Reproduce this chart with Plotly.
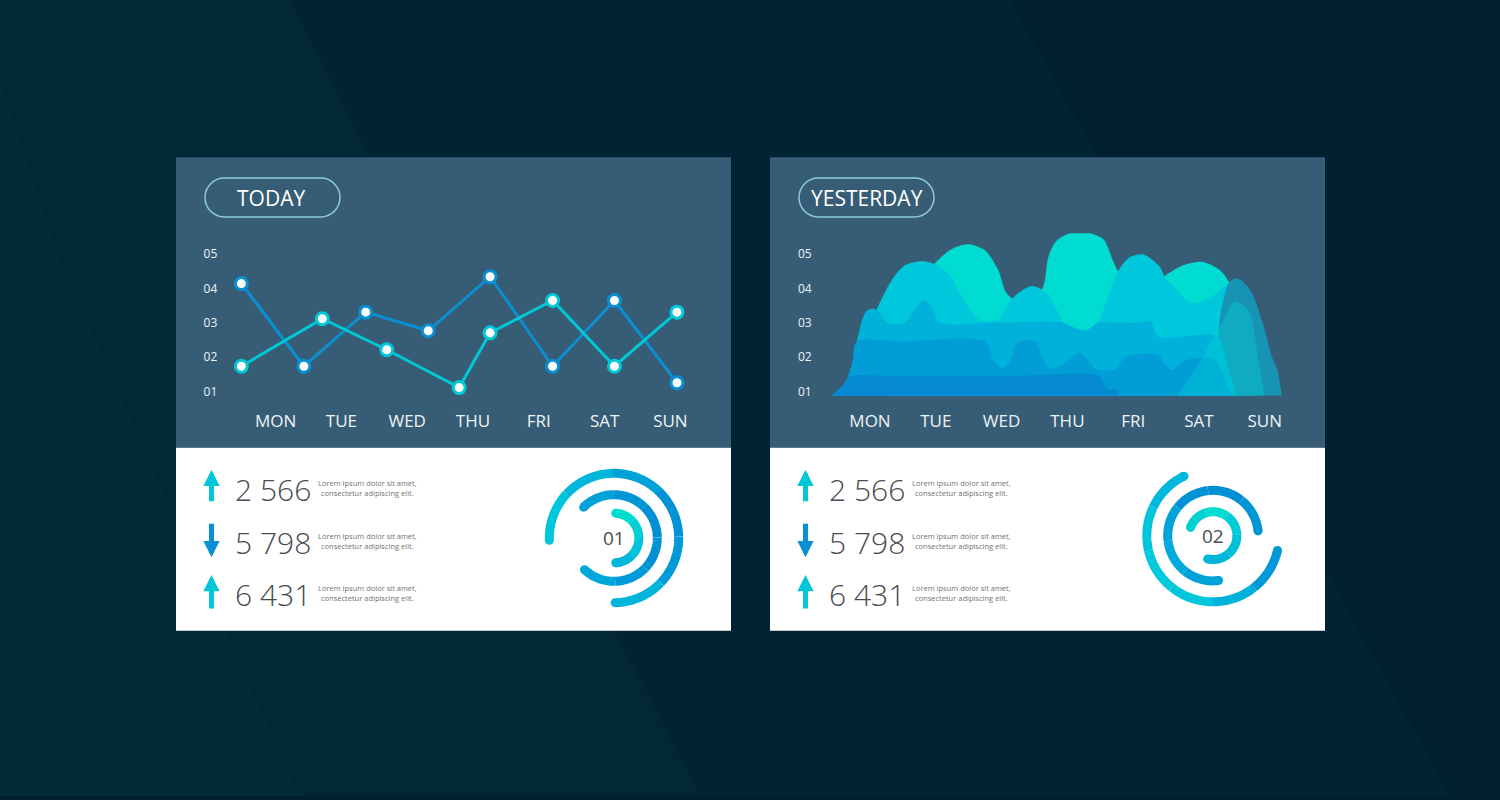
import numpy as np
import plotly.graph_objects as go

W, H = 1500, 800
def px(x): return x / W
def py(y): return 1 - y / H

# ---------------- data ----------------
days = ["MON", "TUE", "WED", "THU", "FRI", "SAT", "SUN"]
day_pos = [0, 1, 2, 3, 4, 5, 6]
y_tickvals = [1, 2, 3, 4, 5]
y_ticktext = ["01", "02", "03", "04", "05"]

# TODAY: two line series (x in day units)
today_a_x = [-0.52, 0.43, 1.37, 2.32, 3.26, 4.21, 5.15, 6.10]
today_a_y = [4.14, 1.74, 3.31, 2.77, 4.34, 1.74, 3.65, 1.26]
today_b_x = [-0.52, 0.71, 1.69, 2.79, 3.26, 4.21, 5.15, 6.10]
today_b_y = [1.74, 3.12, 2.22, 1.12, 2.71, 3.65, 1.74, 3.31]

# YESTERDAY: layered areas (back to front)
teal_x = [0.30, 0.99, 1.25, 1.49, 1.75, 1.95, 2.08, 2.36, 2.63, 2.71, 2.84, 3.15, 3.54, 3.69, 3.77,
          4.10, 4.48, 4.76, 5.06, 5.32, 5.47, 5.70, 5.93]
teal_y = [3.0, 4.74, 5.15, 5.28, 5.1, 4.53, 3.85, 3.5, 4.05, 4.91, 5.39, 5.66, 5.44, 4.82, 4.5,
          3.8, 4.36, 4.67, 4.77, 4.53, 4.14, 3.0, 0.5]
cyan_x = [-0.30, 0.12, 0.33, 0.53, 0.79, 1.03, 1.25, 1.34, 1.49, 1.70, 1.95, 2.16, 2.46, 2.69, 2.84,
          2.98, 3.27, 3.45, 3.60, 3.77, 3.95, 4.15, 4.41, 4.48, 4.67, 4.89, 5.27, 5.44, 5.56, 5.70, 5.80]
cyan_y = [1.5, 3.47, 4.24, 4.67, 4.79, 4.67, 4.29, 3.95, 3.47, 3.06, 3.1, 3.71, 4.07, 3.85, 3.37,
          2.9, 2.6, 2.95, 3.66, 4.5, 4.91, 4.99, 4.62, 4.33, 3.95, 3.56, 3.85, 4.14, 3.6, 2.0, 0.5]
hill_x = [5.20, 5.35, 5.47, 5.59, 5.78, 5.97, 6.11, 6.19, 6.26, 6.30]
hill_y = [0.89, 3.5, 4.2, 4.29, 3.95, 2.99, 2.0, 1.64, 0.89, 0.5]
mid_x = [-0.58, -0.38, -0.27, -0.20, -0.12, -0.05, 0.05, 0.15, 0.26, 0.53, 0.68, 0.82, 0.96, 1.06,
         1.98, 2.93, 3.12, 3.30, 3.47, 3.65, 4.10, 4.26, 4.38, 5.27, 5.47, 5.62]
mid_y = [0.89, 1.25, 1.83, 2.46, 3.08, 3.35, 3.42, 3.3, 3.01, 3.01, 3.4, 3.66, 3.4, 3.01,
         3.01, 3.01, 2.85, 2.8, 3.01, 3.01, 3.01, 3.05, 2.6, 2.6, 1.5, 0.5]
low_x = [-0.58, -0.38, -0.27, -0.20, 0.46, 1.75, 1.88, 2.01, 2.13, 2.25, 2.52, 2.64, 2.77, 2.96,
         3.18, 3.34, 3.43, 3.72, 3.87, 3.99, 4.38, 4.48, 4.59, 4.71, 4.82, 5.24, 5.47, 5.62]
low_y = [0.89, 1.25, 1.83, 2.46, 2.46, 2.46, 1.9, 1.69, 1.9, 2.46, 2.46, 1.9, 1.65, 1.85,
         2.13, 1.85, 1.65, 1.65, 2.0, 2.07, 2.07, 1.8, 1.64, 1.8, 1.93, 1.93, 1.0, 0.5]
base_x = [-0.58, -0.38, -0.30, 0.46, 1.98, 3.50, 3.56, 3.62, 3.75, 3.80]
base_y = [0.89, 1.25, 1.445, 1.445, 1.445, 1.445, 1.15, 1.06, 1.06, 0.5]
haze_x = [4.67, 5.02, 5.32, 5.55, 5.75, 5.90, 6.02]
haze_y = [0.89, 1.9, 2.9, 3.62, 3.37, 2.0, 0.5]

# Stats
stat_values = ["2 566", "5 798", "6 431"]
stat_dirs = ["up", "down", "up"]
stat_text = "Lorem ipsum dolor sit amet,<br>consectetur adipiscing elit."

# Rings: radius (px), start angle, end angle (deg, counter-clockwise positive)
ring1_r = [65, 43.5, 25]
ring1_start = [182, 134.5, 86]
ring1_end = [-89, -133, -86]
ring2_r = [66.5, 45.5, 24]
ring2_start = [116, 6, 160]
ring2_end = [347, 277, -103]
ring_labels = ["01", "02"]

# ---------------- style ----------------
BG = "#00202f"
PANEL = "#365d75"
C_DARK = "#0a90d2"
C_CYAN = "#00c8d6"
TXT = "#474b51"
FONT = "Open Sans"

ring1_cols = [["#00c6dc", "#00b6da", "#00a2d8", "#0094d6", "#009ad8", "#00b4da"],
              ["#00a2d8", "#0096d6", "#008fd4", "#0090d4", "#009ad8", "#00a8da"],
              ["#00dcd0", "#00d0d6", "#00c2da", "#00b6da"]]
ring2_cols = [["#00b8dc", "#00c4dc", "#00cadc", "#00c6dc", "#00b2da", "#0098d6"],
              ["#0096d6", "#008fd4", "#0092d4", "#00a2d8", "#00aada", "#00a0d8"],
              ["#00d2d4", "#00dcd0", "#00ccd8", "#00c0da", "#00b6da"]]

fig = go.Figure()

# ---------- background & panels ----------
shapes = []
shapes.append(dict(type="path", xref="paper", yref="paper", layer="below",
                   path=f"M0,1 L{px(1010)},1 L{px(1450)},0 L0,0 Z",
                   fillcolor="#012435", line=dict(width=0)))
shapes.append(dict(type="path", xref="paper", yref="paper", layer="below",
                   path=f"M0,1 L{px(290)},1 L{px(700)},0 L0,0 Z",
                   fillcolor="#022837", line=dict(width=0)))
shapes.append(dict(type="path", xref="paper", yref="paper", layer="below",
                   path=f"M0,{py(80)} L{px(60)},{py(260)} L{px(300)},0 L0,0 Z",
                   fillcolor="#032a39", line=dict(width=0)))

panel_lefts = [176, 770]
for L in panel_lefts:
    shapes.append(dict(type="rect", xref="paper", yref="paper", layer="below",
                       x0=px(L), x1=px(L + 555), y0=py(450), y1=py(158),
                       fillcolor=PANEL, line=dict(width=0)))
    shapes.append(dict(type="rect", xref="paper", yref="paper", layer="below",
                       x0=px(L), x1=px(L + 555), y0=py(634), y1=py(450),
                       fillcolor="#ffffff", line=dict(width=0)))

def pill(x0, x1, y0, y1):
    r = (y1 - y0) / 2
    k = 0.55 * r
    p = (f"M{px(x0 + r)},{py(y0)} L{px(x1 - r)},{py(y0)} "
         f"C{px(x1 - r + k)},{py(y0)} {px(x1)},{py(y0 + r - k)} {px(x1)},{py(y0 + r)} "
         f"C{px(x1)},{py(y0 + r + k)} {px(x1 - r + k)},{py(y1)} {px(x1 - r)},{py(y1)} "
         f"L{px(x0 + r)},{py(y1)} "
         f"C{px(x0 + r - k)},{py(y1)} {px(x0)},{py(y0 + r + k)} {px(x0)},{py(y0 + r)} "
         f"C{px(x0)},{py(y0 + r - k)} {px(x0 + r - k)},{py(y0)} {px(x0 + r)},{py(y0)} Z")
    return dict(type="path", xref="paper", yref="paper", layer="below", path=p,
                line=dict(color="#8fcbe0", width=1.5), fillcolor="rgba(0,0,0,0)")

shapes.append(pill(205, 340, 179, 218))
shapes.append(pill(799, 934, 179, 218))

annotations = []
annotations.append(dict(x=px(271), y=py(199), xref="paper", yref="paper", text="TODAY",
                        xanchor="center", yanchor="middle",
                        showarrow=False, font=dict(family=FONT, size=21, color="white")))
annotations.append(dict(x=px(867), y=py(199), xref="paper", yref="paper", text="YESTERDAY",
                        xanchor="center", yanchor="middle",
                        showarrow=False, font=dict(family=FONT, size=21, color="white")))

# ---------- axes ----------
ax_common = dict(showgrid=False, zeroline=False, showline=False, ticks="")
xr = [-0.81, 6.5]
yr = [0.89, 5.6]
ydom = [py(397.5), py(234.5)]
fig.update_layout(
    xaxis=dict(domain=[px(222.3), px(703.3)], range=xr, tickvals=day_pos, ticktext=days,
               tickfont=dict(family=FONT, size=17, color="#eef3f6"), ticklabelstandoff=13, **ax_common),
    yaxis=dict(domain=ydom, range=yr, tickvals=y_tickvals, ticktext=y_ticktext,
               tickfont=dict(family=FONT, size=12, color="#eef3f6"), ticklabelstandoff=4, **ax_common),
    xaxis2=dict(domain=[px(816.7), px(1297.7)], range=xr, tickvals=day_pos, ticktext=days,
                tickfont=dict(family=FONT, size=17, color="#eef3f6"), ticklabelstandoff=13,
                anchor="y2", **ax_common),
    yaxis2=dict(domain=ydom, range=yr, tickvals=y_tickvals, ticktext=y_ticktext,
                tickfont=dict(family=FONT, size=12, color="#eef3f6"), ticklabelstandoff=4,
                anchor="x2", **ax_common),
)

# ---------- TODAY lines ----------
for xs, ys, col in [(today_a_x, today_a_y, C_DARK), (today_b_x, today_b_y, C_CYAN)]:
    fig.add_trace(go.Scatter(x=xs, y=ys, mode="lines+markers", xaxis="x", yaxis="y",
                             line=dict(color=col, width=3),
                             marker=dict(size=12, color="white", line=dict(color=col, width=3)),
                             cliponaxis=False, hoverinfo="skip", showlegend=False))

# ---------- YESTERDAY areas ----------
layers = [
    (teal_x, teal_y, "#00dcd2"),
    (cyan_x, cyan_y, "#00c8dc"),
    (hill_x, hill_y, "#1794b4"),
    (mid_x, mid_y, "#00b2da"),
    (low_x, low_y, "#009dd6"),
    (base_x, base_y, "#0489d2"),
    (haze_x, haze_y, "rgba(0,215,215,0.35)"),
]
for xs, ys, col in layers:
    fig.add_trace(go.Scatter(x=xs, y=ys, mode="lines", xaxis="x2", yaxis="y2",
                             line=dict(width=0, shape="spline", smoothing=0.8, color=col),
                             fill="tozeroy", fillcolor=col, hoverinfo="skip", showlegend=False))

# ---------- stats ----------
row_y = [(472, 505, 491.5), (525, 560, 545), (578, 613, 597)]
for L in panel_lefts:
    ax_x = L + 35.5
    for (ytop, ybot, yc), val, d in zip(row_y, stat_values, stat_dirs):
        if d == "up":
            tip, off, col = ytop, ybot - ytop, "#00c6d8"
        else:
            tip, off, col = ybot, ytop - ybot, C_DARK
        annotations.append(dict(x=px(ax_x), y=py(tip), ax=0, ay=off,
                                xref="paper", yref="paper", axref="pixel", ayref="pixel",
                                text="", showarrow=True, arrowhead=2, arrowwidth=5,
                                arrowsize=0.65, arrowcolor=col))
        annotations.append(dict(x=px(L + 57), y=py(yc), xref="paper", yref="paper",
                                xanchor="left", yanchor="middle", text=val, showarrow=False,
                                font=dict(family=FONT, size=30, color=TXT, weight=300)))
        annotations.append(dict(x=px(L + 191), y=py(yc - 1), xref="paper", yref="paper",
                                xanchor="center", yanchor="middle", text=stat_text,
                                showarrow=False, align="center",
                                font=dict(family=FONT, size=7.5, color="#6f7378")))

# ---------- rings ----------
def add_ring(subplot, radius, start, end, cols, width=9):
    n = len(cols)
    edges = np.linspace(start, end, n + 1)
    for i in range(n):
        th = np.linspace(edges[i], edges[i + 1], 25)
        fig.add_trace(go.Scatterpolar(r=[radius] * len(th), theta=th, mode="lines",
                                      line=dict(color=cols[i], width=width), subplot=subplot,
                                      hoverinfo="skip", showlegend=False))
    fig.add_trace(go.Scatterpolar(r=[radius, radius], theta=[start, end], mode="markers",
                                  marker=dict(size=width, color=[cols[0], cols[-1]]),
                                  subplot=subplot, hoverinfo="skip", showlegend=False))

centers = [(614, 540.7), (1213, 538.3)]
ring_sets = [(ring1_r, ring1_start, ring1_end, ring1_cols), (ring2_r, ring2_start, ring2_end, ring2_cols)]
polar_names = ["polar", "polar2"]
for (cx, cy), (rs, ss, es, cs), pname, lab in zip(centers, ring_sets, polar_names, ring_labels):
    for r, s, e, c in zip(rs, ss, es, cs):
        add_ring(pname, r, s, e, c)
    fig.update_layout(**{pname: dict(
        domain=dict(x=[px(cx - 80), px(cx + 80)], y=[py(cy + 80), py(cy - 80)]),
        bgcolor="rgba(0,0,0,0)",
        radialaxis=dict(range=[0, 80], visible=False),
        angularaxis=dict(visible=False, direction="counterclockwise", rotation=0),
    )})
    annotations.append(dict(x=px(cx), y=py(cy), xref="paper", yref="paper", text=lab,
                            xanchor="center", yanchor="middle",
                            showarrow=False, font=dict(family=FONT, size=19, color=TXT)))

fig.update_layout(width=W, height=H, margin=dict(l=0, r=0, t=0, b=0), autosize=False,
                  paper_bgcolor=BG, plot_bgcolor="rgba(0,0,0,0)",
                  shapes=shapes, annotations=annotations, showlegend=False)

fig.write_html("out.html", config={"displayModeBar": False, "responsive": False},
               default_width="1500px", default_height="800px",
               post_script="document.body.style.margin='0';document.body.style.overflow='hidden';"
                           "document.body.style.background='#00202f';")
